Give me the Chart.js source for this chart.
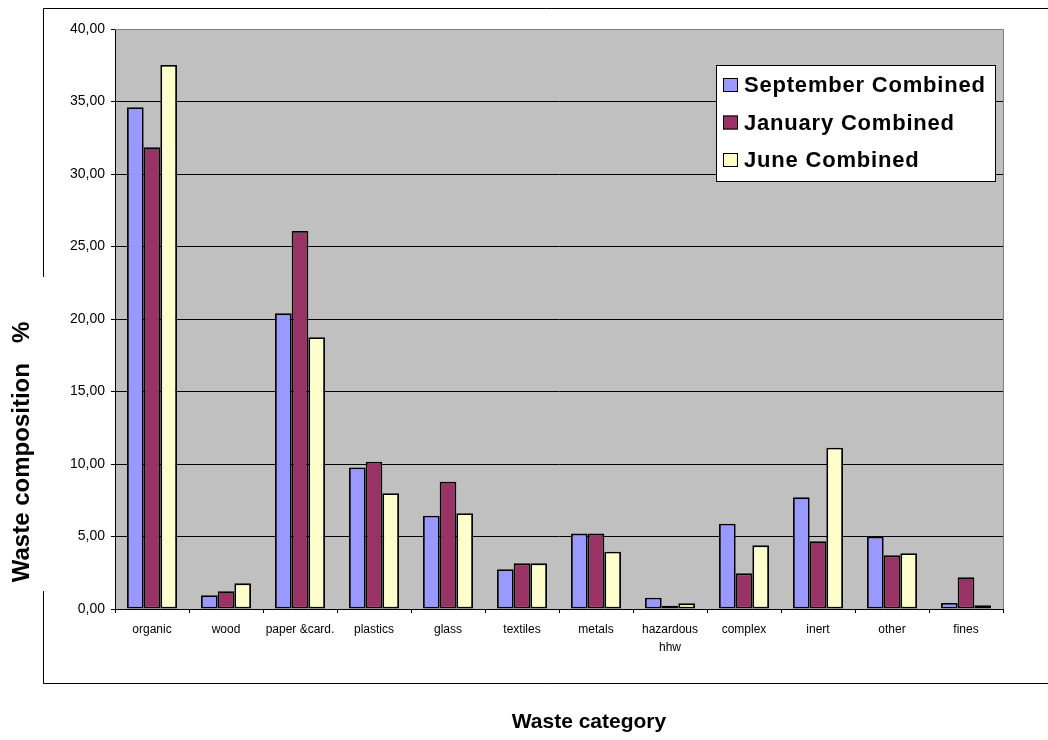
<!DOCTYPE html>
<html>
<head>
<meta charset="utf-8">
<title>Waste composition</title>
<script src="https://cdn.jsdelivr.net/npm/chart.js@4"></script>
<style>
  html, body { margin: 0; padding: 0; background: #fff; }
  #wrap { width: 1048px; height: 740px; }
</style>
</head>
<body>
<div id="wrap"><canvas id="chart" width="1048" height="740"></canvas></div>
<script>
// ── Data ───────────────────────────────────────────────────
const categories = ['organic', 'wood', 'paper &card.', 'plastics', 'glass', 'textiles',
  'metals', ['hazardous', 'hhw'], 'complex', 'inert', 'other', 'fines'];
const september = [34.60, 0.94, 20.39, 9.76, 6.43, 2.74, 5.20, 0.78, 5.88, 7.70, 4.99, 0.41];
const january   = [31.84, 1.22, 26.07, 10.16, 8.78, 3.15, 5.20, 0.23, 2.46, 4.67, 3.70, 2.19];
const june      = [37.52, 1.77, 18.74, 7.98, 6.60, 3.15, 3.95, 0.39, 4.39, 11.12, 3.84, 0.26];
const seriesNames = ['September Combined', 'January Combined', 'June Combined'];
const seriesColors = ['#9999FF', '#993366', '#FFFFCC'];

const FONT = "'Liberation Sans', Arial, sans-serif";

// ── Excel-ish decoration: frame, plot bg, legend, axis titles ──
const excelLook = {
  id: 'excelLook',
  beforeDraw(chart) {
    const { ctx, chartArea: a } = chart;
    ctx.save();
    // outer frame, left edge broken by the y title
    ctx.strokeStyle = '#000';
    ctx.lineWidth = 1;
    ctx.beginPath();
    ctx.moveTo(43.5, 277); ctx.lineTo(43.5, 8.5); ctx.lineTo(1060, 8.5);
    ctx.moveTo(43.5, 591); ctx.lineTo(43.5, 683.5); ctx.lineTo(1060, 683.5);
    ctx.stroke();
    // plot area background
    ctx.fillStyle = '#C0C0C0';
    ctx.fillRect(a.left, a.top, a.right - a.left, a.bottom - a.top);
    ctx.restore();
  },
  afterDraw(chart) {
    const { ctx, chartArea: a } = chart;
    ctx.save();
    // plot area border (top / right)
    ctx.strokeStyle = '#808080';
    ctx.lineWidth = 1;
    ctx.beginPath();
    ctx.moveTo(a.left, a.top + 0.5); ctx.lineTo(a.right + 0.5, a.top + 0.5);
    ctx.lineTo(a.right + 0.5, a.bottom);
    ctx.stroke();

    // legend box
    const bx = 716, by = 65, bw = 279, bh = 116;
    ctx.fillStyle = '#fff';
    ctx.fillRect(bx, by, bw, bh);
    ctx.strokeStyle = '#000';
    ctx.strokeRect(bx + 0.5, by + 0.5, bw, bh);
    ctx.font = 'bold 22px ' + FONT;
    ctx.letterSpacing = '0.8px';
    ctx.textBaseline = 'middle';
    ctx.textAlign = 'left';
    chart.data.datasets.forEach((ds, i) => {
      const cy = 85 + i * 37.5;
      ctx.fillStyle = ds.backgroundColor;
      ctx.fillRect(723, cy - 7, 15, 14);
      ctx.strokeRect(723.5, cy - 6.5, 14, 13);
      ctx.fillStyle = '#000';
      ctx.fillText(ds.label, 744, cy + 1);
    });

    // axis titles
    ctx.letterSpacing = '0px';
    ctx.fillStyle = '#000';
    ctx.font = 'bold 21px ' + FONT;
    ctx.textAlign = 'center';
    ctx.fillText('Waste category', 589, 722);

    ctx.font = 'bold 24px ' + FONT;
    ctx.translate(22, 452);
    ctx.rotate(-Math.PI / 2);
    ctx.fillText('Waste composition   %', 0, 0);
    ctx.restore();
  }
};

const seriesData = [september, january, june];

new Chart(document.getElementById('chart'), {
  type: 'bar',
  data: {
    labels: categories,
    datasets: seriesNames.map((name, i) => ({
      label: name,
      data: seriesData[i],
      backgroundColor: seriesColors[i],
      borderColor: '#000',
      borderWidth: 1.8,
      borderSkipped: false,
      categoryPercentage: 0.675,
      barPercentage: 1.0,
    })),
  },
  options: {
    responsive: false,
    animation: false,
    events: [],
    layout: { padding: { top: 29, right: 45, left: 0, bottom: 0 } },
    plugins: {
      legend: { display: false },
      tooltip: { enabled: false },
    },
    scales: {
      x: {
        afterFit: s => { s.height = 131; },
        grid: {
          drawOnChartArea: false,
          drawTicks: true,
          tickLength: 4,
          color: '#000',
          tickColor: '#000',
        },
        border: { color: '#000', width: 1 },
        ticks: {
          color: '#000',
          padding: 8,
          maxRotation: 0,
          autoSkip: false,
          font: { family: FONT, size: 12, lineHeight: 1.5 },
        },
      },
      y: {
        min: 0,
        max: 40,
        afterFit: s => { s.width = 115; },
        grid: {
          color: ctx => (ctx.tick && ctx.tick.value === 40 ? '#808080' : '#000'),
          tickColor: '#000',
          tickLength: 4,
          lineWidth: 1,
        },
        border: { color: '#000', width: 1 },
        ticks: {
          stepSize: 5,
          color: '#000',
          padding: 6,
          font: { family: FONT, size: 14 },
          callback: v => v.toFixed(2).replace('.', ','),
        },
      },
    },
  },
  plugins: [excelLook],
});
</script>
</body>
</html>
